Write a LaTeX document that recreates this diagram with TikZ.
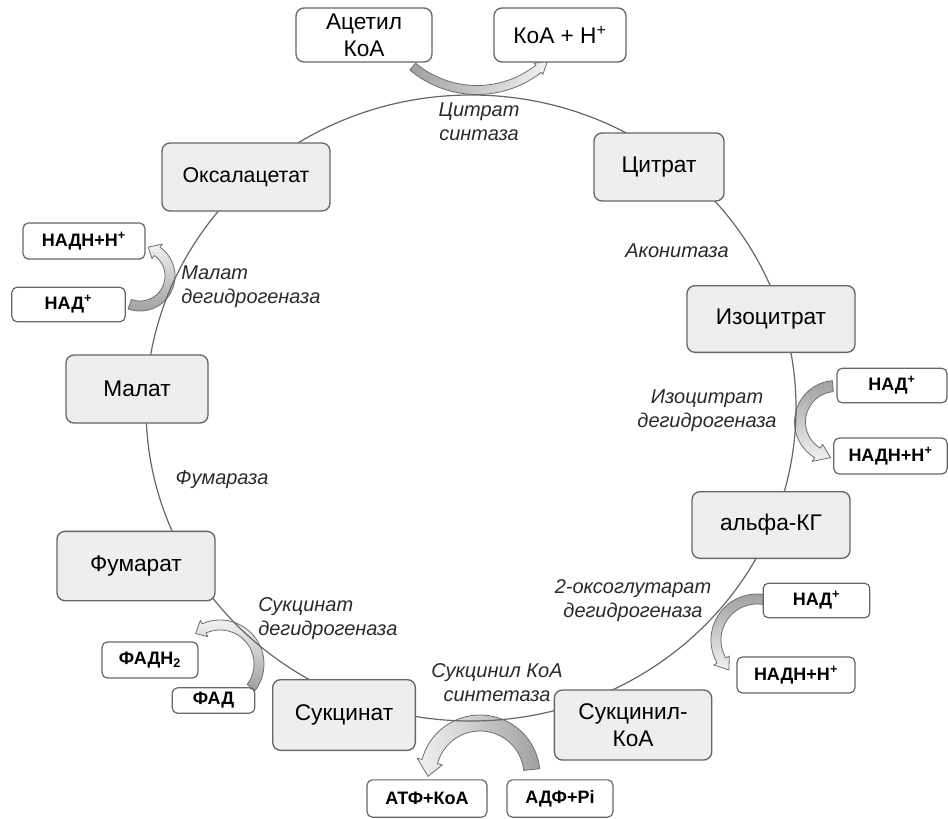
\documentclass[tikz,border=0pt]{standalone}
\usepackage{fontspec}
\setmainfont{Liberation Sans}
\usetikzlibrary{calc}
\definecolor{boxfill}{HTML}{EEEEEE}
\definecolor{boxline}{HTML}{666666}
\definecolor{cyc}{HTML}{666666}
\definecolor{adark}{HTML}{A0A0A0}
\definecolor{alight}{HTML}{F2F2F2}
\definecolor{aline}{HTML}{6E6E6E}
\definecolor{lbl}{HTML}{2A2A2A}
\newcommand\curvarrow[9]{%
  \pgfmathsetmacro\cvRo{#3+#6/2}%
  \pgfmathsetmacro\cvRi{#3-#6/2}%
  \pgfmathsetmacro\cvHo{#3+#7}%
  \pgfmathsetmacro\cvHi{#3-#7}%
  \pgfmathsetmacro\cvT{(#5)+sign((#5)-(#4))*(#8)/(#3)*57.2958}%
  \path[#9] plot[domain=#4:#5, samples=40] ({#1+\cvRo*cos(\x)},{#2+\cvRo*sin(\x)})
    -- ({#1+\cvHo*cos(#5)},{#2+\cvHo*sin(#5)})
    -- ({#1+#3*cos(\cvT)},{#2+#3*sin(\cvT)})
    -- ({#1+\cvHi*cos(#5)},{#2+\cvHi*sin(#5)})
    -- plot[domain=#5:#4, samples=40] ({#1+\cvRi*cos(\x)},{#2+\cvRi*sin(\x)})
    -- cycle;
}
\begin{document}
\begin{tikzpicture}[x=0.75pt, y=-0.75pt,
  big/.style={draw=boxline, line width=1pt, fill=boxfill, rounded corners=6pt, inner sep=0pt, align=center, font=\fontsize{17}{20}\selectfont},
  topb/.style={big, fill=white},
  smallb/.style={draw=boxline, line width=0.9pt, fill=white, rounded corners=4pt, inner sep=0pt, font=\fontsize{13.5}{16}\selectfont\bfseries},
  enz/.style={font=\fontsize{15}{18}\selectfont\itshape, text=lbl, align=center, inner sep=0pt},
  barrow/.style={draw=aline, line width=0.6pt, line join=round}]
\useasboundingbox (0,0) rectangle (948,818);

% curved block arrows
\curvarrow{477}{-10}{100}{130}{52}{9}{7}{12}{barrow, left color=adark, right color=alight}
\curvarrow{140}{276}{30}{110}{-55}{10}{9}{10}{barrow, bottom color=adark, top color=alight}
\curvarrow{836}{422}{36}{265}{121}{11}{10}{14}{barrow, top color=adark, bottom color=alight}
\curvarrow{757}{640}{41}{279}{150}{10}{9}{12}{barrow, top color=adark, bottom color=alight}
\curvarrow{220}{664}{39}{37}{-114}{10}{9}{10}{barrow, bottom color=adark, top color=alight}
\curvarrow{480}{775}{52}{-6}{-165}{16}{13}{15}{barrow, left color=alight, right color=adark}

% cycle
\coordinate (cc) at (471,408);
\draw[cyc, line width=0.9pt] (cc) ellipse [x radius=325, y radius=313];

% main boxes
\node[topb, minimum width=102pt, minimum height=40.5pt] (acoa) at (364,35) {Ацетил\\КоА};
\node[topb, minimum width=99pt, minimum height=40.5pt] (coah) at (560,35) {КоА + Н\textsuperscript{+}};
\node[big, minimum width=126pt, minimum height=51pt, font=\fontsize{16}{19}\selectfont] (oxa) at (246,177) {Оксалацетат};
\node[big, minimum width=97.5pt, minimum height=51pt] (cit) at (659,167) {Цитрат};
\node[big, minimum width=126pt, minimum height=50pt] (iso) at (771,319) {Изоцитрат};
\node[big, minimum width=118.5pt, minimum height=50pt] (akg) at (771,525) {альфа-КГ};
\node[big, minimum width=118pt, minimum height=52.5pt] (sca) at (633,725) {Сукцинил-\\КоА};
\node[big, minimum width=107pt, minimum height=53pt] (suc) at (344,715) {Сукцинат};
\node[big, minimum width=118.5pt, minimum height=52pt] (fum) at (136,566) {Фумарат};
\node[big, minimum width=106.5pt, minimum height=51pt] (mal) at (137,389) {Малат};

% cofactor boxes
\node[smallb, minimum width=91.5pt, minimum height=27pt] (nadh1) at (84,241) {НАДН+Н\textsuperscript{+}};
\node[smallb, minimum width=85pt, minimum height=26pt] (nad1) at (68.5,304.5) {НАД\textsuperscript{+}};
\node[smallb, minimum width=82.5pt, minimum height=26pt] (nad2) at (892,385.5) {НАД\textsuperscript{+}};
\node[smallb, minimum width=85pt, minimum height=27pt] (nadh2) at (890.5,456) {НАДН+Н\textsuperscript{+}};
\node[smallb, minimum width=80pt, minimum height=26pt] (nad3) at (816.5,600.5) {НАД\textsuperscript{+}};
\node[smallb, minimum width=88.5pt, minimum height=27pt] (nadh3) at (796,675) {НАДН+Н\textsuperscript{+}};
\node[smallb, minimum width=72pt, minimum height=27pt] (fadh) at (150,660) {ФАДН\textsubscript{2}};
\node[smallb, minimum width=62pt, minimum height=19pt] (fad) at (213.5,700.5) {ФАД};
\node[smallb, minimum width=90pt, minimum height=28pt] (atp) at (427,798.5) {АТФ+КоА};
\node[smallb, minimum width=79.5pt, minimum height=28pt] (adp) at (560,798.5) {АДФ+Pi};

% enzyme labels
\node[enz] (l1) at (479,122) {Цитрат\\синтаза};
\node[enz] (l2) at (677,251) {Аконитаза};
\node[enz] (l3) at (707,411) {Изоцитрат\\дегидрогеназа};
\node[enz] (l4) at (633,601) {2-оксоглутарат\\дегидрогеназа};
\node[enz] (l5) at (497,683) {Сукцинил КоА\\синтетаза};
\node[enz, anchor=west, align=left] (l6) at (258,619) {Сукцинат\\дегидрогеназа};
\node[enz] (l7) at (222,480) {Фумараза};
\node[enz, anchor=west, align=left] (l8) at (181,287) {Малат\\дегидрогеназа};
\end{tikzpicture}
\end{document}
